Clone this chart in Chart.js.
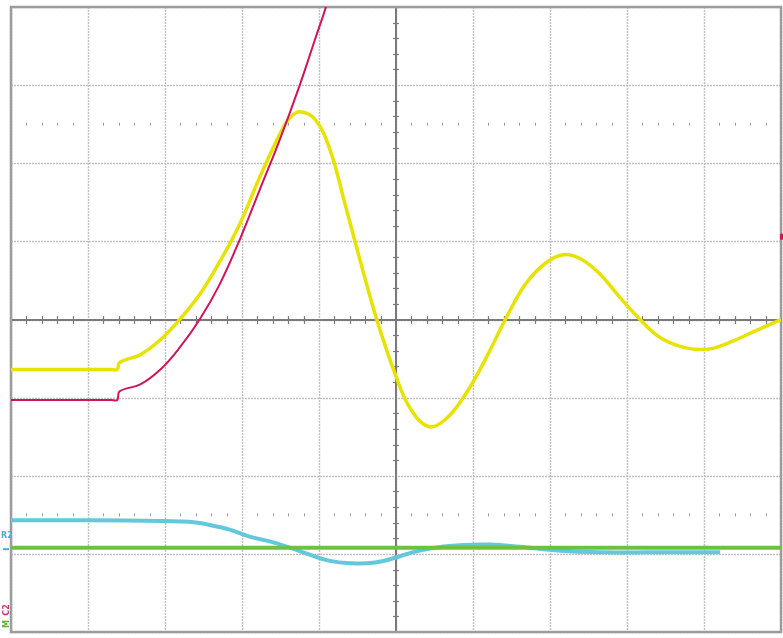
<!DOCTYPE html>
<html>
<head>
<meta charset="utf-8">
<script src="https://cdn.jsdelivr.net/npm/chart.js@4.4.1/dist/chart.umd.min.js"></script>
<style>
  html, body { margin: 0; padding: 0; background: #fff; }
  #wrap { width: 783px; height: 638px; }
</style>
</head>
<body>
<div id="wrap"><canvas id="c" width="783" height="638"></canvas></div>
<script>
// Horizontal / vertical divisions of the scope screen
const xDivs = [0, 1, 2, 3, 4, 5, 6, 7, 8, 9, 10];
const yDivs = [-4, -3, -2, -1, 0, 1, 2, 3, 4];

// Channel 1 (yellow) – damped oscillation, in divisions
const yellowX = [0, 0.7, 1.3, 1.38, 1.41, 1.68, 1.94, 2.19, 2.45, 2.71, 2.97, 3.23, 3.49, 3.62, 3.75, 3.95, 4.14, 4.34, 4.53, 4.75, 4.99, 5.18, 5.42, 5.64, 5.90, 6.16, 6.42, 6.68, 6.94, 7.17, 7.39, 7.65, 7.91, 8.17, 8.43, 8.75, 9.05, 9.34, 9.66, 10];
const yellowY = [-0.64, -0.64, -0.64, -0.64, -0.55, -0.45, -0.26, 0.00, 0.32, 0.74, 1.22, 1.82, 2.37, 2.58, 2.66, 2.56, 2.18, 1.47, 0.77, 0.00, -0.70, -1.13, -1.37, -1.28, -0.96, -0.51, 0.00, 0.45, 0.72, 0.83, 0.78, 0.58, 0.28, 0.00, -0.23, -0.36, -0.38, -0.29, -0.15, 0.00];

// Channel 2 (magenta) – rising ramp going off-screen
const redX = [0, 0.7, 1.3, 1.38, 1.41, 1.68, 1.94, 2.19, 2.45, 2.71, 2.97, 3.23, 3.49, 3.75, 3.95, 4.09, 4.2];
const redY = [-1.03, -1.03, -1.03, -1.03, -0.92, -0.83, -0.64, -0.36, 0.00, 0.45, 1.02, 1.66, 2.30, 3.00, 3.59, 4.0, 4.4];

// Channel 3 (cyan)
const cyanX = [0, 1.0, 2.0, 2.32, 2.58, 2.84, 3.10, 3.36, 3.62, 3.88, 4.14, 4.40, 4.73, 4.99, 5.18, 5.44, 5.83, 6.22, 6.61, 7.13, 7.65, 8.30, 9.21];
const cyanY = [-2.57, -2.57, -2.58, -2.59, -2.63, -2.69, -2.78, -2.84, -2.92, -3.01, -3.09, -3.12, -3.11, -3.05, -2.99, -2.93, -2.89, -2.88, -2.91, -2.96, -2.98, -2.98, -2.98];

// Channel 4 (green) – flat
const greenX = [0, 10];
const greenY = [-2.92, -2.92];

// Small channel level marker at the right edge (magenta)
const markerY = 1.06;

function pts(xs, ys) { return xs.map((x, i) => ({ x: x, y: ys[i] })); }

const gridPlugin = {
  id: 'scopeGrid',
  beforeDatasetsDraw(chart) {
    const { ctx, chartArea: a, scales: { x, y } } = chart;
    ctx.save();
    // dotted grid
    ctx.strokeStyle = '#c2c2c2';
    ctx.lineWidth = 1.5;
    ctx.setLineDash([2, 1]);
    xDivs.forEach(v => {
      const px = Math.round(x.getPixelForValue(v)) + 0.5;
      ctx.beginPath(); ctx.moveTo(px, a.top); ctx.lineTo(px, a.bottom); ctx.stroke();
    });
    yDivs.forEach(v => {
      const py = Math.round(y.getPixelForValue(v)) + 0.5;
      ctx.beginPath(); ctx.moveTo(a.left, py); ctx.lineTo(a.right, py); ctx.stroke();
    });
    ctx.setLineDash([]);
    // rows of small marks at +/-2.5 div
    ctx.strokeStyle = '#9a9a9a';
    ctx.lineWidth = 1;
    [2.5, -2.5].forEach(v => {
      const py = y.getPixelForValue(v);
      for (let i = 0; i <= 50; i++) {
        if (i % 5 === 0) continue;
        const px = Math.round(x.getPixelForValue(i / 5)) + 0.5;
        ctx.beginPath(); ctx.moveTo(px, py - 1.5); ctx.lineTo(px, py + 1.5); ctx.stroke();
      }
    });
    // center cross
    const cx = Math.round(x.getPixelForValue(5));
    const cy = Math.round(y.getPixelForValue(0));
    ctx.strokeStyle = '#7a7a7a';
    ctx.lineWidth = 2;
    ctx.beginPath(); ctx.moveTo(a.left, cy); ctx.lineTo(a.right, cy); ctx.stroke();
    ctx.beginPath(); ctx.moveTo(cx, a.top); ctx.lineTo(cx, a.bottom); ctx.stroke();
    ctx.lineWidth = 1.2;
    for (let i = 0; i <= 50; i++) {
      if (i % 5 === 0) continue;
      const px = Math.round(x.getPixelForValue(i / 5)) + 0.5;
      ctx.beginPath(); ctx.moveTo(px, cy - 4); ctx.lineTo(px, cy + 4); ctx.stroke();
    }
    for (let i = 0; i <= 40; i++) {
      if (i % 5 === 0) continue;
      const py = Math.round(y.getPixelForValue(-4 + i / 5)) + 0.5;
      ctx.beginPath(); ctx.moveTo(cx - 3, py); ctx.lineTo(cx + 3, py); ctx.stroke();
    }
    // border
    ctx.strokeStyle = '#9c9c9c';
    ctx.lineWidth = 2.5;
    ctx.strokeRect(a.left, a.top, a.right - a.left, a.bottom - a.top);
    ctx.restore();
  },
  afterDatasetsDraw(chart) {
    const { ctx, chartArea: a, scales: { x, y } } = chart;
    ctx.save();
    // right edge magenta marker
    const my = y.getPixelForValue(markerY);
    ctx.fillStyle = '#d4145a';
    ctx.fillRect(a.right - 1, my - 3, 3, 6);
    // left channel labels
    const c3y = y.getPixelForValue(-2.85);
    ctx.font = 'bold 8px "DejaVu Sans"';
    ctx.fillStyle = '#3fb5cf';
    ctx.textBaseline = 'middle';
    ctx.fillText('R2', 1, c3y - 6);
    ctx.fillRect(3, c3y + 6, 6, 2);
    ctx.translate(7, a.bottom - 14);
    ctx.rotate(-Math.PI / 2);
    ctx.textAlign = 'center';
    ctx.fillStyle = '#d0327a';
    ctx.font = 'bold 8px "DejaVu Sans"';
    ctx.fillText('C2', 8, 0);
    ctx.fillStyle = '#5ab536';
    ctx.fillText('M', -6, 0);
    ctx.restore();
  }
};

const common = { showLine: true, pointRadius: 0, fill: false, tension: 0.4 };

new Chart(document.getElementById('c'), {
  type: 'scatter',
  data: {
    datasets: [
      Object.assign({ label: 'Ch4', data: pts(greenX, greenY), borderColor: '#6cc23e', borderWidth: 4 }, common),
      Object.assign({ label: 'Ch3', data: pts(cyanX, cyanY), borderColor: '#62c8dc', borderWidth: 4 }, common),
      Object.assign({ label: 'Ch2', data: pts(redX, redY), borderColor: '#d0145c', borderWidth: 2 }, common),
      Object.assign({ label: 'Ch1', data: pts(yellowX, yellowY), borderColor: '#e8e200', borderWidth: 3.5 }, common)
    ]
  },
  options: {
    responsive: false,
    animation: false,
    layout: { padding: { left: 11, top: 7, right: 2, bottom: 6 } },
    plugins: { legend: { display: false }, tooltip: { enabled: false } },
    scales: {
      x: { type: 'linear', min: 0, max: 10, display: false },
      y: { type: 'linear', min: -4, max: 4, display: false }
    }
  },
  plugins: [gridPlugin]
});
</script>
</body>
</html>
